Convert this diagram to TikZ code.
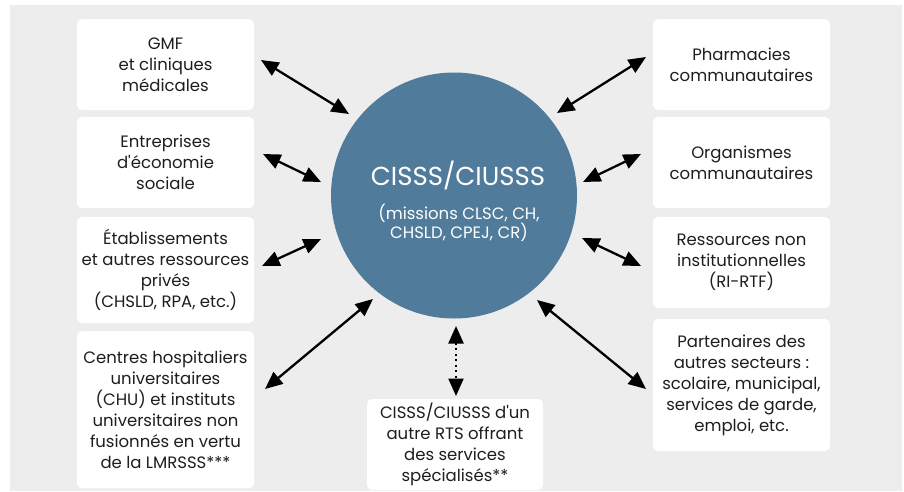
\documentclass[tikz,border=0pt]{standalone}
\usepackage{fontspec}
\setmainfont{Poppins}[Ligatures=TeXOff]
\usetikzlibrary{arrows.meta}
\definecolor{bg}{RGB}{237,237,237}
\definecolor{circ}{RGB}{80,123,155}
\definecolor{txt}{RGB}{30,30,30}
\tikzset{
  box/.style={fill=white, rounded corners=5pt, align=center, text=txt,
    font=\fontsize{16.5}{21}\selectfont, inner sep=0pt},
  tip/.tip={Triangle[length=17.5pt,width=15pt]},
  link/.style={line width=2.3pt, tip-tip},
  dlink/.style={line width=2.3pt, dash pattern=on 2pt off 3.5pt, tip-tip},
}
\begin{document}
\begin{tikzpicture}[x=1pt,y=-1pt]
\useasboundingbox (0,0) rectangle (904,491);
\fill[bg] (10,5) rectangle (902,491);
% circle
\node[circle, fill=circ, minimum size=246pt, inner sep=0pt] (c) at (454,195.5) {};
\node[text=white, font=\fontsize{26}{30}\selectfont] (ct) at (458,175) {CISSS/CIUSSS};
\node[text=white, align=center, font=\fontsize{16.5}{19}\selectfont] (cs) at (459,222.5) {(missions CLSC, CH,\\CHSLD, CPEJ, CR)};
% left boxes
\node[box, minimum width=177pt, minimum height=91pt] (l1) at (165.5,64.5) {GMF\\et cliniques\\médicales};
\node[box, minimum width=177pt, minimum height=91pt] (l2) at (165.5,162.5) {Entreprises\\d'économie\\sociale};
\node[box, minimum width=177pt, minimum height=106pt] (l3) at (165.5,270) {Établissements\\et autres ressources\\privés\\(CHSLD, RPA, etc.)};
\node[box, minimum width=177pt, minimum height=157pt] (l4) at (165.5,409.5) {Centres hospitaliers\\universitaires\\(CHU) et instituts\\universitaires non\\fusionnés en vertu\\de la LMRSSS***};
% right boxes
\node[box, minimum width=177pt, minimum height=91pt] (r1) at (741.5,64.5) {Pharmacies\\communautaires};
\node[box, minimum width=177pt, minimum height=91pt] (r2) at (741.5,162.5) {Organismes\\communautaires};
\node[box, minimum width=177pt, minimum height=91pt] (r3) at (741.5,262.5) {Ressources non\\institutionnelles\\(RI-RTF)};
\node[box, minimum width=177pt, minimum height=132pt] (r4) at (741.5,385) {Partenaires des\\autres secteurs :\\scolaire, municipal,\\services de garde,\\emploi, etc.};
% bottom box
\node[box, minimum width=176pt, minimum height=91pt] (b) at (455,444.5) {CISSS/CIUSSS d'un\\autre RTS offrant\\des services\\spécialisés**};
% arrow endpoints
\coordinate (a1s) at (261,60); \coordinate (a1e) at (349,114);
\coordinate (a2s) at (263,154); \coordinate (a2e) at (321,182);
\coordinate (a3s) at (262,266); \coordinate (a3e) at (321,239);
\coordinate (a4s) at (265,389); \coordinate (a4e) at (373,299);
\coordinate (a5s) at (456,326); \coordinate (a5e) at (456,396);
\coordinate (a6s) at (537,300); \coordinate (a6e) at (646,389);
\coordinate (a7s) at (582,238); \coordinate (a7e) at (641,266);
\coordinate (a8s) at (583,182); \coordinate (a8e) at (641,154);
\coordinate (a9s) at (557,113); \coordinate (a9e) at (646,57);
\draw[link] (a1s) -- (a1e);
\draw[link] (a2s) -- (a2e);
\draw[link] (a3s) -- (a3e);
\draw[link] (a4s) -- (a4e);
\draw[dlink] (a5s) -- (a5e);
\draw[link] (a6s) -- (a6e);
\draw[link] (a7s) -- (a7e);
\draw[link] (a8s) -- (a8e);
\draw[link] (a9s) -- (a9e);
\end{tikzpicture}
\end{document}
